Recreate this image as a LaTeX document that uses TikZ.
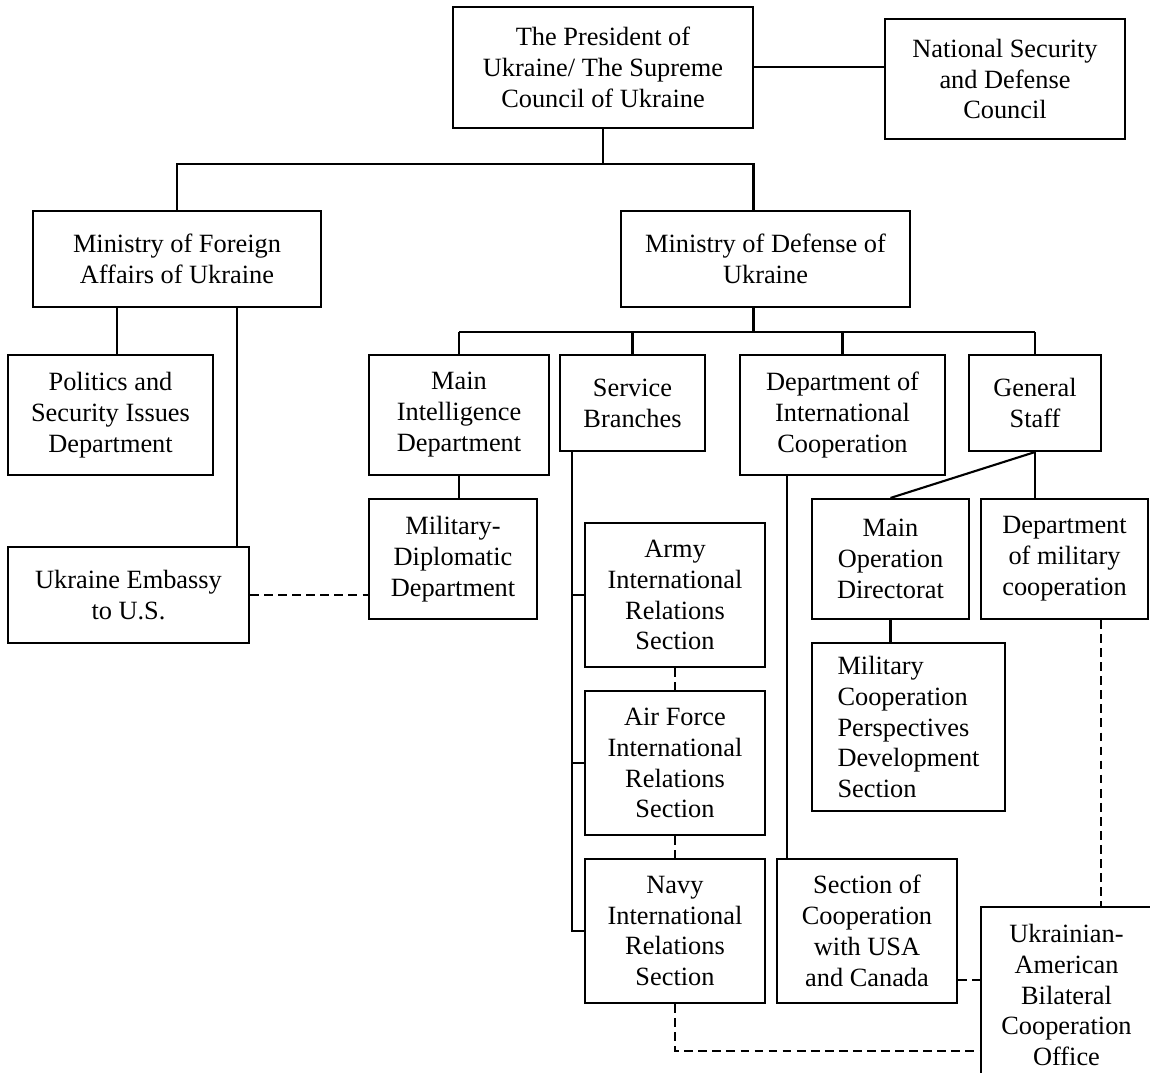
\documentclass[tikz,border=0pt]{standalone}
\usepackage{fontspec}
\setmainfont{Liberation Serif}
\usepackage{tikz}

\begin{document}
\begin{tikzpicture}[
    orgbox/.style={draw, line width=1.2pt, align=center, inner sep=0pt,
        font=\fontsize{15}{17.6}\selectfont},
    link/.style={line width=1.2pt},
    dlink/.style={line width=1.2pt, dash pattern=on 5pt off 3pt}]

    \clip (0,0) rectangle (23,-21.46);

    \node[orgbox, minimum width=6cm, minimum height=2.42cm] (pres) at (12.06,-1.35)
        {The President of\\Ukraine/ The Supreme\\Council of Ukraine};
    \node[orgbox, minimum width=4.8cm, minimum height=2.4cm] (nsdc) at (20.10,-1.58)
        {National Security\\and Defense\\Council};

    \node[orgbox, minimum width=5.76cm, minimum height=1.92cm] (mfa) at (3.54,-5.18)
        {Ministry of Foreign\\Affairs of Ukraine};
    \node[orgbox, minimum width=5.78cm, minimum height=1.92cm] (mod) at (15.31,-5.18)
        {Ministry of Defense of\\Ukraine};

    \node[orgbox, minimum width=4.1cm, minimum height=2.4cm] (pol) at (2.21,-8.30)
        {Politics and\\Security Issues\\Department};
    \node[orgbox, minimum width=4.82cm, minimum height=1.92cm] (emb) at (2.57,-11.9)
        {Ukraine Embassy\\to U.S.};

    \node[orgbox, minimum width=3.6cm, minimum height=2.4cm] (intel) at (9.18,-8.30)
        {Main\\Intelligence\\Department};
    \node[orgbox, minimum width=3.36cm, minimum height=2.4cm] (mildip) at (9.06,-11.18)
        {Military-\\Diplomatic\\Department};
    \node[orgbox, minimum width=2.9cm, minimum height=1.92cm] (serv) at (12.65,-8.06)
        {Service\\Branches};
    \node[orgbox, minimum width=4.1cm, minimum height=2.4cm] (dic) at (16.85,-8.30)
        {Department of\\International\\Cooperation};
    \node[orgbox, minimum width=2.64cm, minimum height=1.92cm] (gs) at (20.70,-8.06)
        {General\\Staff};

    \node[orgbox, minimum width=3.14cm, minimum height=2.4cm] (mainop) at (17.81,-11.18)
        {Main\\Operation\\Directorat};
    \node[orgbox, minimum width=3.34cm, minimum height=2.4cm] (dmc) at (21.29,-11.18)
        {Department\\of military\\cooperation};
    \node[orgbox, align=left, minimum width=3.86cm, minimum height=3.36cm] (mcp) at (18.17,-14.54)
        {Military\\Cooperation\\Perspectives\\Development\\Section};

    \node[orgbox, minimum width=3.6cm, minimum height=2.88cm] (army) at (13.5,-11.9)
        {Army\\International\\Relations\\Section};
    \node[orgbox, minimum width=3.6cm, minimum height=2.88cm] (air) at (13.5,-15.26)
        {Air Force\\International\\Relations\\Section};
    \node[orgbox, minimum width=3.6cm, minimum height=2.88cm] (navy) at (13.5,-18.62)
        {Navy\\International\\Relations\\Section};
    \node[orgbox, minimum width=3.6cm, minimum height=2.88cm] (seccoop) at (17.34,-18.62)
        {Section of\\Cooperation\\with USA\\and Canada};
    \node[orgbox, minimum width=3.42cm, minimum height=3.52cm] (uabco) at (21.33,-19.90)
        {Ukrainian-\\American\\Bilateral\\Cooperation\\Office};

    % top level
    \draw[link] (pres.east |- 0,-1.34) -- (nsdc.west |- 0,-1.34);
    \coordinate (topbus) at ([yshift=-7mm]pres.south);
    \draw[link] (pres.south) -- (topbus);
    \draw[link] (mfa.north) |- (topbus);
    \draw[link] ([xshift=-2.4mm]mod.north) -- ([xshift=-2.4mm]mod.north |- topbus) -- (topbus);

    % foreign affairs
    \draw[link] ([xshift=-12mm]mfa.south) -- ([xshift=-12mm]mfa.south |- pol.north);
    \draw[link] ([xshift=12mm]mfa.south) -- ([xshift=12mm]mfa.south |- emb.north);
    \draw[dlink] (emb.east) -- (emb.east -| mildip.west);

    % defense
    \coordinate (modbus) at ([xshift=-2.4mm,yshift=-4.8mm]mod.south);
    \draw[link] ([xshift=-2.4mm]mod.south) -- (modbus);
    \draw[link] (intel.north |- modbus) -- (gs.north |- modbus);
    \foreach \n in {intel,serv,dic,gs}
        \draw[link] (\n.north) -- (\n.north |- modbus);
    \draw[link] (intel.south) -- (intel.south |- mildip.north);

    % service branches
    \coordinate (sb) at ([xshift=2.6mm]serv.south west);
    \draw[link] (sb) |- (navy.west);
    \foreach \n in {army,air}
        \draw[link] (\n.west) -- (\n.west -| sb);
    \draw[dlink] (army.south) -- (air.north);
    \draw[dlink] (air.south) -- (navy.north);

    % international cooperation
    \draw[link] ([xshift=2.2mm]seccoop.north west) -- ([xshift=2.2mm]seccoop.north west |- dic.south);

    % general staff
    \draw[link] (gs.south) -- (mainop.north);
    \draw[link] (gs.south) -- (gs.south |- dmc.north);
    \draw[link] (mainop.south) -- (mainop.south |- mcp.north);

    % bilateral office
    \draw[dlink] ([xshift=7.3mm]dmc.south) -- ([xshift=7.3mm]dmc.south |- uabco.north);
    \draw[dlink] ([yshift=4.8mm]seccoop.south east) -- ([yshift=4.8mm]seccoop.south east -| uabco.west);
    \draw[dlink] (navy.south) |- ([yshift=-11.2mm]uabco.west);

\end{tikzpicture}
\end{document}
